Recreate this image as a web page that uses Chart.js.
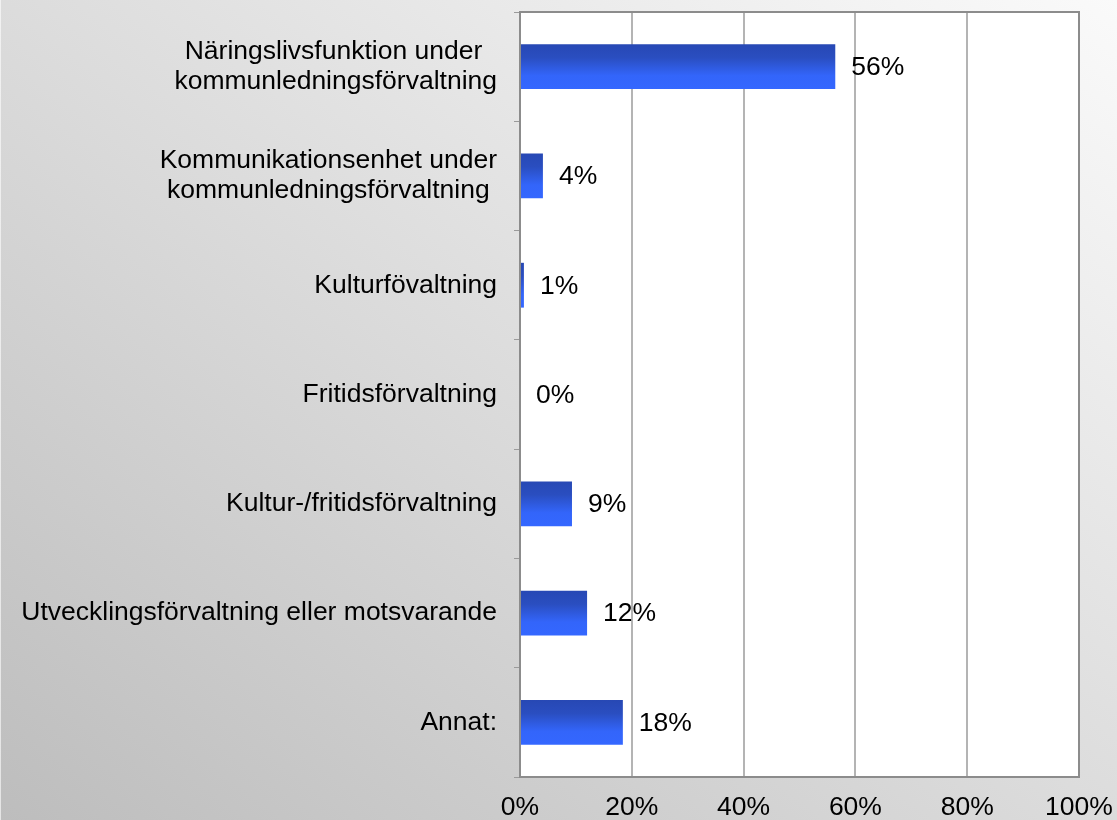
<!DOCTYPE html>
<html>
<head>
<meta charset="utf-8">
<script src="https://cdn.jsdelivr.net/npm/chart.js@4.4.0/dist/chart.umd.min.js"></script>
<style>
  html, body { margin: 0; padding: 0; }
  body { width: 1117px; height: 820px; overflow: hidden;
         background: linear-gradient(to bottom left, #fafafa 0%, #dcdcdc 50%, #bdbdbd 100%); }
  #wrap { position: relative; width: 1117px; height: 820px; box-shadow: inset 1px 0 0 rgba(255,255,255,0.6); }
</style>
</head>
<body>
<div id="wrap"><canvas id="c"></canvas></div>
<script>
const categories = [
  ["Näringslivsfunktion under  ", "kommunledningsförvaltning"],
  ["Kommunikationsenhet under", "kommunledningsförvaltning "],
  "Kulturfövaltning",
  "Fritidsförvaltning",
  "Kultur-/fritidsförvaltning",
  "Utvecklingsförvaltning eller motsvarande",
  "Annat:"
];
const shares = [56.4, 4.1, 0.7, 0, 9.3, 12.0, 18.4];
const xTicks = [0, 20, 40, 60, 80, 100];

const FONT = "'Liberation Sans', Arial, sans-serif";
const FSIZE = 26.5;
const BAR_FRACTION = 0.41;

const plotBg = {
  id: 'plotBg',
  beforeDraw(chart) {
    const { ctx, chartArea: a } = chart;
    ctx.save();
    ctx.fillStyle = '#ffffff';
    ctx.fillRect(a.left, a.top, a.right - a.left, a.bottom - a.top);
    ctx.restore();
  },
  afterDraw(chart) {
    const { ctx, chartArea: a } = chart;
    ctx.save();
    ctx.strokeStyle = '#8c8c8c';
    ctx.lineWidth = 2;
    ctx.beginPath();
    ctx.moveTo(a.left, a.top);
    ctx.lineTo(a.right, a.top);
    ctx.lineTo(a.right, a.bottom);
    ctx.stroke();
    ctx.restore();
  }
};

const valueLabels = {
  id: 'valueLabels',
  afterDatasetsDraw(chart) {
    const { ctx } = chart;
    const meta = chart.getDatasetMeta(0);
    ctx.save();
    ctx.font = FSIZE + 'px ' + FONT;
    ctx.fillStyle = '#000000';
    ctx.textAlign = 'left';
    ctx.textBaseline = 'middle';
    meta.data.forEach((el, i) => {
      ctx.fillText(Math.round(shares[i]) + '%', el.x + 16, el.y + 1);
    });
    ctx.restore();
  }
};

new Chart(document.getElementById('c'), {
  type: 'bar',
  data: {
    labels: categories,
    datasets: [{
      data: shares,
      borderWidth: 0,
      barPercentage: BAR_FRACTION,
      categoryPercentage: 1,
      backgroundColor: (ctx) => {
        const chart = ctx.chart;
        const ys = chart.scales.y;
        if (!ys || ctx.type !== 'data' || !isFinite(ys.height)) return '#2e58dc';
        const c = ys.getPixelForValue(ctx.dataIndex);
        const half = ys.height / categories.length * BAR_FRACTION / 2;
        const g = chart.ctx.createLinearGradient(0, c - half, 0, c + half);
        g.addColorStop(0, '#2748b4');
        g.addColorStop(0.3, '#2a4ec0');
        g.addColorStop(0.7, '#3365fa');
        g.addColorStop(1, '#3467ff');
        return g;
      }
    }]
  },
  options: {
    indexAxis: 'y',
    responsive: true,
    maintainAspectRatio: false,
    animation: false,
    layout: { padding: { top: 12, right: 38, left: 0, bottom: 0 } },
    plugins: { legend: { display: false }, tooltip: { enabled: false } },
    scales: {
      x: {
        min: 0, max: 100,
        afterBuildTicks(scale) { scale.ticks = xTicks.map(v => ({ value: v })); },
        afterFit(scale) {
          scale.height = 43;
          scale.paddingLeft = 0; scale.paddingRight = 0;
          scale.paddingTop = 0; scale.paddingBottom = 0;
        },
        grid: { color: '#b4b4b4', lineWidth: 2, drawTicks: false },
        border: { color: '#8c8c8c', width: 2 },
        ticks: {
          callback: v => v + '%',
          color: '#000000',
          padding: 15,
          maxRotation: 0,
          font: { family: FONT, size: FSIZE }
        }
      },
      y: {
        afterFit(scale) {
          scale.width = 520;
          scale.paddingLeft = 0; scale.paddingRight = 0;
          scale.paddingTop = 0; scale.paddingBottom = 0;
        },
        grid: { drawOnChartArea: false, drawTicks: true, tickLength: 6, color: '#9a9a9a', lineWidth: 1, offset: true },
        border: { color: '#8c8c8c', width: 2 },
        ticks: {
          color: '#000000',
          padding: 17,
          autoSkip: false,
          font: { family: FONT, size: FSIZE, lineHeight: 1.14 }
        }
      }
    }
  },
  plugins: [plotBg, valueLabels]
});
</script>
</body>
</html>
